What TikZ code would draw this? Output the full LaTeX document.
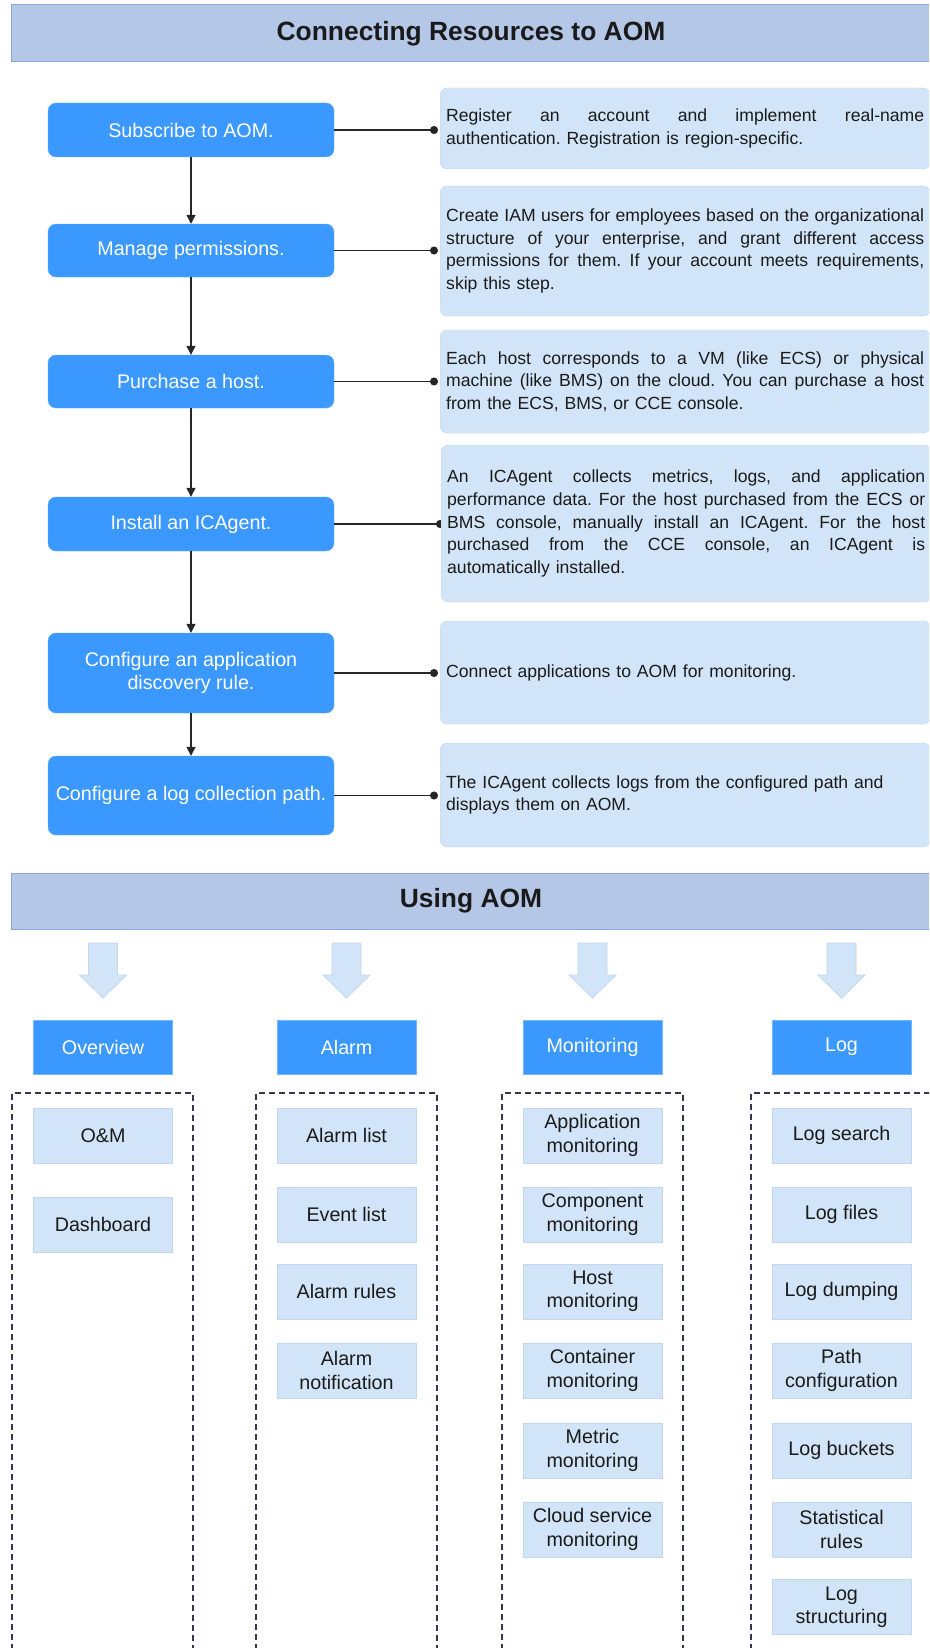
\documentclass[tikz,border=0pt]{standalone}
\usepackage{fontspec}
\setmainfont{Liberation Sans}
\usetikzlibrary{arrows.meta}
\definecolor{stepblue}{HTML}{3A98FF}
\definecolor{hdrfill}{HTML}{B4C7E7}
\definecolor{hdrline}{HTML}{8FA4D8}
\definecolor{lightfill}{HTML}{D2E5F8}
\definecolor{lightline}{HTML}{C4D6EC}
\definecolor{dashcol}{HTML}{333850}
\definecolor{linecol}{HTML}{262626}
\definecolor{textcol}{HTML}{1A1A1A}
\newcommand{\jline}[1]{\leavevmode{\spaceskip=0.278em plus 1fil minus 0.12em\relax\hbox to 478pt{#1}}\par}
\begin{document}
\begin{tikzpicture}[x=1pt,y=-1pt,
 stepbox/.style={fill=stepblue, draw=stepblue!80!white, rounded corners=8pt, text=white, font=\fontsize{19.7}{23.5}\selectfont, align=center, inner sep=0pt, minimum width=286pt},
 descbox/.style={fill=lightfill, draw=lightline, rounded corners=7pt, text=textcol, font=\fontsize{17.6}{22.7}\selectfont\frenchspacing, align=left, text width=478pt, inner xsep=6pt, inner ysep=0pt, anchor=west},
 hdr/.style={fill=hdrfill, draw=hdrline, line width=1pt, font=\bfseries\fontsize{26.4}{30}\selectfont, text=textcol, minimum width=920pt, inner sep=0pt},
 catbox/.style={fill=stepblue, draw=stepblue!70!white, text=white, font=\fontsize{19.7}{23.5}\selectfont, minimum width=139pt, minimum height=54pt, inner sep=0pt},
 subbox/.style={fill=lightfill, draw=lightline, text=textcol, font=\fontsize{19.7}{23.5}\selectfont, align=center, minimum width=139pt, minimum height=55pt, inner sep=0pt},
 flow/.style={draw=linecol, line width=1.3pt, -{Triangle[width=9pt,length=9pt]}},
 conn/.style={draw=linecol, line width=1.3pt, -{Circle[length=8pt]}},
 container/.style={draw=dashcol, line width=1.3pt, dash pattern=on 6pt off 4pt},
 bigarrow/.style={fill=lightfill, draw=lightline, line width=0.8pt}
]
\useasboundingbox (0,0) rectangle (929,1648);
\fill[white] (0,0) rectangle (929,1648);
\clip (0,0) rectangle (929,1648);

% headers
\node[hdr, minimum height=57pt] (h1) at (471,33.5) {Connecting Resources to AOM};
\node[hdr, minimum height=56pt] (h2) at (471,901) {Using AOM};

% steps
\node[stepbox, minimum height=54pt] (s1) at (191,130) {Subscribe to AOM.};
\node[stepbox, minimum height=53pt] (s2) at (191,250.5) {Manage permissions.};
\node[stepbox, minimum height=53pt] (s3) at (191,381.5) {Purchase a host.};
\node[stepbox, minimum height=54pt] (s4) at (191,524) {Install an ICAgent.};
\node[stepbox, minimum height=80pt] (s5) at (191,673) {Configure an application\\discovery rule.};
\node[stepbox, minimum height=79pt] (s6) at (191,795.5) {Configure a log collection path.};

\draw[flow] (s1.south) -- (s2.north);
\draw[flow] (s2.south) -- (s3.north);
\draw[flow] (s3.south) -- (s4.north);
\draw[flow] (s4.south) -- (s5.north);
\draw[flow] (s5.south) -- (s6.north);

% connector ends
\coordinate (c1) at (438,130);
\coordinate (c2) at (438,250.5);
\coordinate (c3) at (438,381.5);
\coordinate (c4) at (444,524);
\coordinate (c5) at (438,673);
\coordinate (c6) at (438,795.5);
\draw[conn] (s1.east) -- (c1);
\draw[conn] (s2.east) -- (c2);
\draw[conn] (s3.east) -- (c3);
\draw[conn] (s4.east) -- (c4);
\draw[conn] (s5.east) -- (c5);
\draw[conn] (s6.east) -- (c6);

% descriptions
\node[descbox, minimum height=81pt] (d1) at (440,128.5) {\jline{Register an account and implement real-name}authentication. Registration is region-specific.};
\node[descbox, minimum height=130pt] (d2) at (440,251) {\jline{Create IAM users for employees based on the organizational}\jline{structure of your enterprise, and grant different access}\jline{permissions for them. If your account meets requirements,}skip this step.};
\node[descbox, minimum height=103pt] (d3) at (440,381.5) {\jline{Each host corresponds to a VM (like ECS) or physical}\jline{machine (like BMS) on the cloud. You can purchase a host}from the ECS, BMS, or CCE console.};
\node[descbox, minimum height=157pt] (d4) at (441,523.5) {\jline{An ICAgent collects metrics, logs, and application}\jline{performance data. For the host purchased from the ECS or}\jline{BMS console, manually install an ICAgent. For the host}\jline{purchased from the CCE console, an ICAgent is}automatically installed.};
\node[descbox, minimum height=103pt] (d5) at (440,672.5) {Connect applications to AOM for monitoring.};
\node[descbox, minimum height=104pt] (d6) at (440,795) {The ICAgent collects logs from the configured path and\\displays them on AOM.};

% big arrows
\foreach \cx in {103,346.5,592.5,841.5}{
  \path[bigarrow] (\cx-14.5,943) -- (\cx+14.5,943) -- (\cx+14.5,975) -- (\cx+23.5,975) -- (\cx,998) -- (\cx-23.5,975) -- (\cx-14.5,975) -- cycle;
}

% categories
\node[catbox] (ov) at (103,1047) {Overview};
\node[catbox] (al) at (346.5,1047) {Alarm};
\node[catbox] (mo) at (592.5,1047) {Monitoring};
\node[catbox] (lg) at (841.5,1047) {Log};

% dashed containers
\draw[container] (12,1700) -- (12,1093) -- (193,1093) -- (193,1700);
\draw[container] (256,1700) -- (256,1093) -- (437,1093) -- (437,1700);
\draw[container] (502,1700) -- (502,1093) -- (683,1093) -- (683,1700);
\draw[container] (751,1700) -- (751,1093) -- (945,1093);

% overview items
\node[subbox] (ov1) at (103,1135.5) {O\&M};
\node[subbox] (ov2) at (103,1224.5) {Dashboard};
% alarm items
\node[subbox] (al1) at (346.5,1135.5) {Alarm list};
\node[subbox] (al2) at (346.5,1214.5) {Event list};
\node[subbox] (al3) at (346.5,1291.5) {Alarm rules};
\node[subbox] (al4) at (346.5,1370.5) {Alarm\\notification};
% monitoring items
\node[subbox] (mo1) at (592.5,1135.5) {Application\\monitoring};
\node[subbox] (mo2) at (592.5,1214.5) {Component\\monitoring};
\node[subbox] (mo3) at (592.5,1291.5) {Host\\monitoring};
\node[subbox] (mo4) at (592.5,1370.5) {Container\\monitoring};
\node[subbox] (mo5) at (592.5,1450.5) {Metric\\monitoring};
\node[subbox] (mo6) at (592.5,1529.5) {Cloud service\\monitoring};
% log items
\node[subbox] (lg1) at (841.5,1135.5) {Log search};
\node[subbox] (lg2) at (841.5,1214.5) {Log files};
\node[subbox] (lg3) at (841.5,1291.5) {Log dumping};
\node[subbox] (lg4) at (841.5,1370.5) {Path\\configuration};
\node[subbox] (lg5) at (841.5,1450.5) {Log buckets};
\node[subbox] (lg6) at (841.5,1529.5) {Statistical\\rules};
\node[subbox] (lg7) at (841.5,1607) {Log\\structuring};
\end{tikzpicture}
\end{document}
